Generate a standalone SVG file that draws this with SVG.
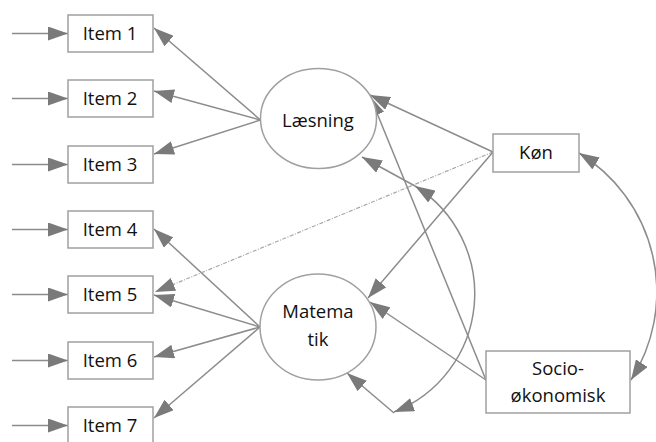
<svg xmlns="http://www.w3.org/2000/svg" width="656" height="442" viewBox="0 0 656 442">
  <style>
    .box { fill: #fff; stroke: #a0a0a0; stroke-width: 1.5; }
    .lat { fill: #fff; stroke: #a0a0a0; stroke-width: 1.5; }
    .lbl { font-family: "Open Sans", "Noto Sans", sans-serif; font-size: 18.5px; fill: #111; text-anchor: middle; }
    .edge { fill: none; stroke: #8c8c8c; stroke-width: 1.5; marker-end: url(#head); }
    .cov { fill: none; stroke: #8c8c8c; stroke-width: 1.5; marker-start: url(#head); marker-end: url(#head); }
    .dash { fill: none; stroke: #a8a8a8; stroke-width: 1.2; stroke-dasharray: 4 1.5 1 1.5; marker-end: url(#head); }
  </style>
  <defs>
    <marker id="head" viewBox="0 0 20 14" refX="20" refY="7" markerWidth="20" markerHeight="14" markerUnits="userSpaceOnUse" orient="auto-start-reverse">
      <path d="M0,0 L20,7 L0,14 z" fill="#7a7a7a"/>
    </marker>
  </defs>

  <rect width="656" height="442" fill="#fff"/>

  <g id="connectors">
    <!-- error terms into the indicators -->
    <line class="edge" x1="12" y1="33.5" x2="68" y2="33.5"/>
    <line class="edge" x1="12" y1="98.5" x2="68" y2="98.5"/>
    <line class="edge" x1="12" y1="164.5" x2="68" y2="164.5"/>
    <line class="edge" x1="12" y1="229.5" x2="68" y2="229.5"/>
    <line class="edge" x1="12" y1="294.5" x2="68" y2="294.5"/>
    <line class="edge" x1="12" y1="360.5" x2="68" y2="360.5"/>
    <line class="edge" x1="12" y1="425.5" x2="68" y2="425.5"/>

    <!-- Læsning loadings -->
    <line class="edge" x1="260.5" y1="120" x2="154" y2="28"/>
    <line class="edge" x1="260.5" y1="120" x2="154" y2="91"/>
    <line class="edge" x1="260.5" y1="120" x2="154" y2="154"/>

    <!-- Matematik loadings -->
    <line class="edge" x1="260" y1="327" x2="154" y2="229"/>
    <line class="edge" x1="260" y1="327" x2="154" y2="295"/>
    <line class="edge" x1="260" y1="327" x2="154" y2="357"/>
    <line class="edge" x1="260" y1="327" x2="154" y2="418"/>

    <!-- Køn effects -->
    <line class="dash" x1="493" y1="152" x2="155" y2="292"/>
    <line class="edge" x1="493" y1="152" x2="370" y2="95"/>
    <line class="edge" x1="493" y1="152" x2="368" y2="298"/>

    <!-- Socio-økonomisk effects -->
    <line class="edge" x1="486" y1="380" x2="370" y2="96"/>
    <line class="edge" x1="486" y1="380" x2="370" y2="302"/>

    <!-- covariance Læsning / Matematik -->
    <line class="edge" x1="415" y1="186" x2="362" y2="157"/>
    <path class="cov" d="M415,186 A127,127 0 0 1 394,412"/>
    <line class="edge" x1="394" y1="413" x2="347" y2="373"/>

    <!-- covariance Køn / Socio-økonomisk -->
    <path class="cov" d="M579,153 A163,163 0 0 1 631,380"/>
  </g>

  <g id="item1"><rect class="box" x="68" y="15" width="85" height="37"/><text class="lbl" x="110" y="40">Item 1</text></g>
  <g id="item2"><rect class="box" x="68" y="80" width="85" height="37"/><text class="lbl" x="110" y="105">Item 2</text></g>
  <g id="item3"><rect class="box" x="68" y="146" width="85" height="37"/><text class="lbl" x="110" y="171">Item 3</text></g>
  <g id="item4"><rect class="box" x="68" y="211" width="85" height="37"/><text class="lbl" x="110" y="236">Item 4</text></g>
  <g id="item5"><rect class="box" x="68" y="276" width="85" height="37"/><text class="lbl" x="110" y="301">Item 5</text></g>
  <g id="item6"><rect class="box" x="68" y="342" width="85" height="37"/><text class="lbl" x="110" y="367">Item 6</text></g>
  <g id="item7"><rect class="box" x="68" y="407" width="85" height="37"/><text class="lbl" x="110" y="432">Item 7</text></g>

  <g id="laesning">
    <ellipse class="lat" cx="318.5" cy="118.5" rx="58" ry="50"/>
    <text class="lbl" x="318" y="127">Læsning</text>
  </g>

  <g id="matematik">
    <ellipse class="lat" cx="318" cy="327" rx="58" ry="53"/>
    <text class="lbl" x="318" y="318">Matema</text>
    <text class="lbl" x="318" y="346">tik</text>
  </g>

  <g id="koen">
    <rect class="box" x="493" y="134" width="86" height="38"/>
    <text class="lbl" x="536" y="159">Køn</text>
  </g>

  <g id="socio">
    <rect class="box" x="486" y="351" width="144" height="62"/>
    <text class="lbl" x="558" y="375">Socio-</text>
    <text class="lbl" x="558" y="402">økonomisk</text>
  </g>
</svg>
